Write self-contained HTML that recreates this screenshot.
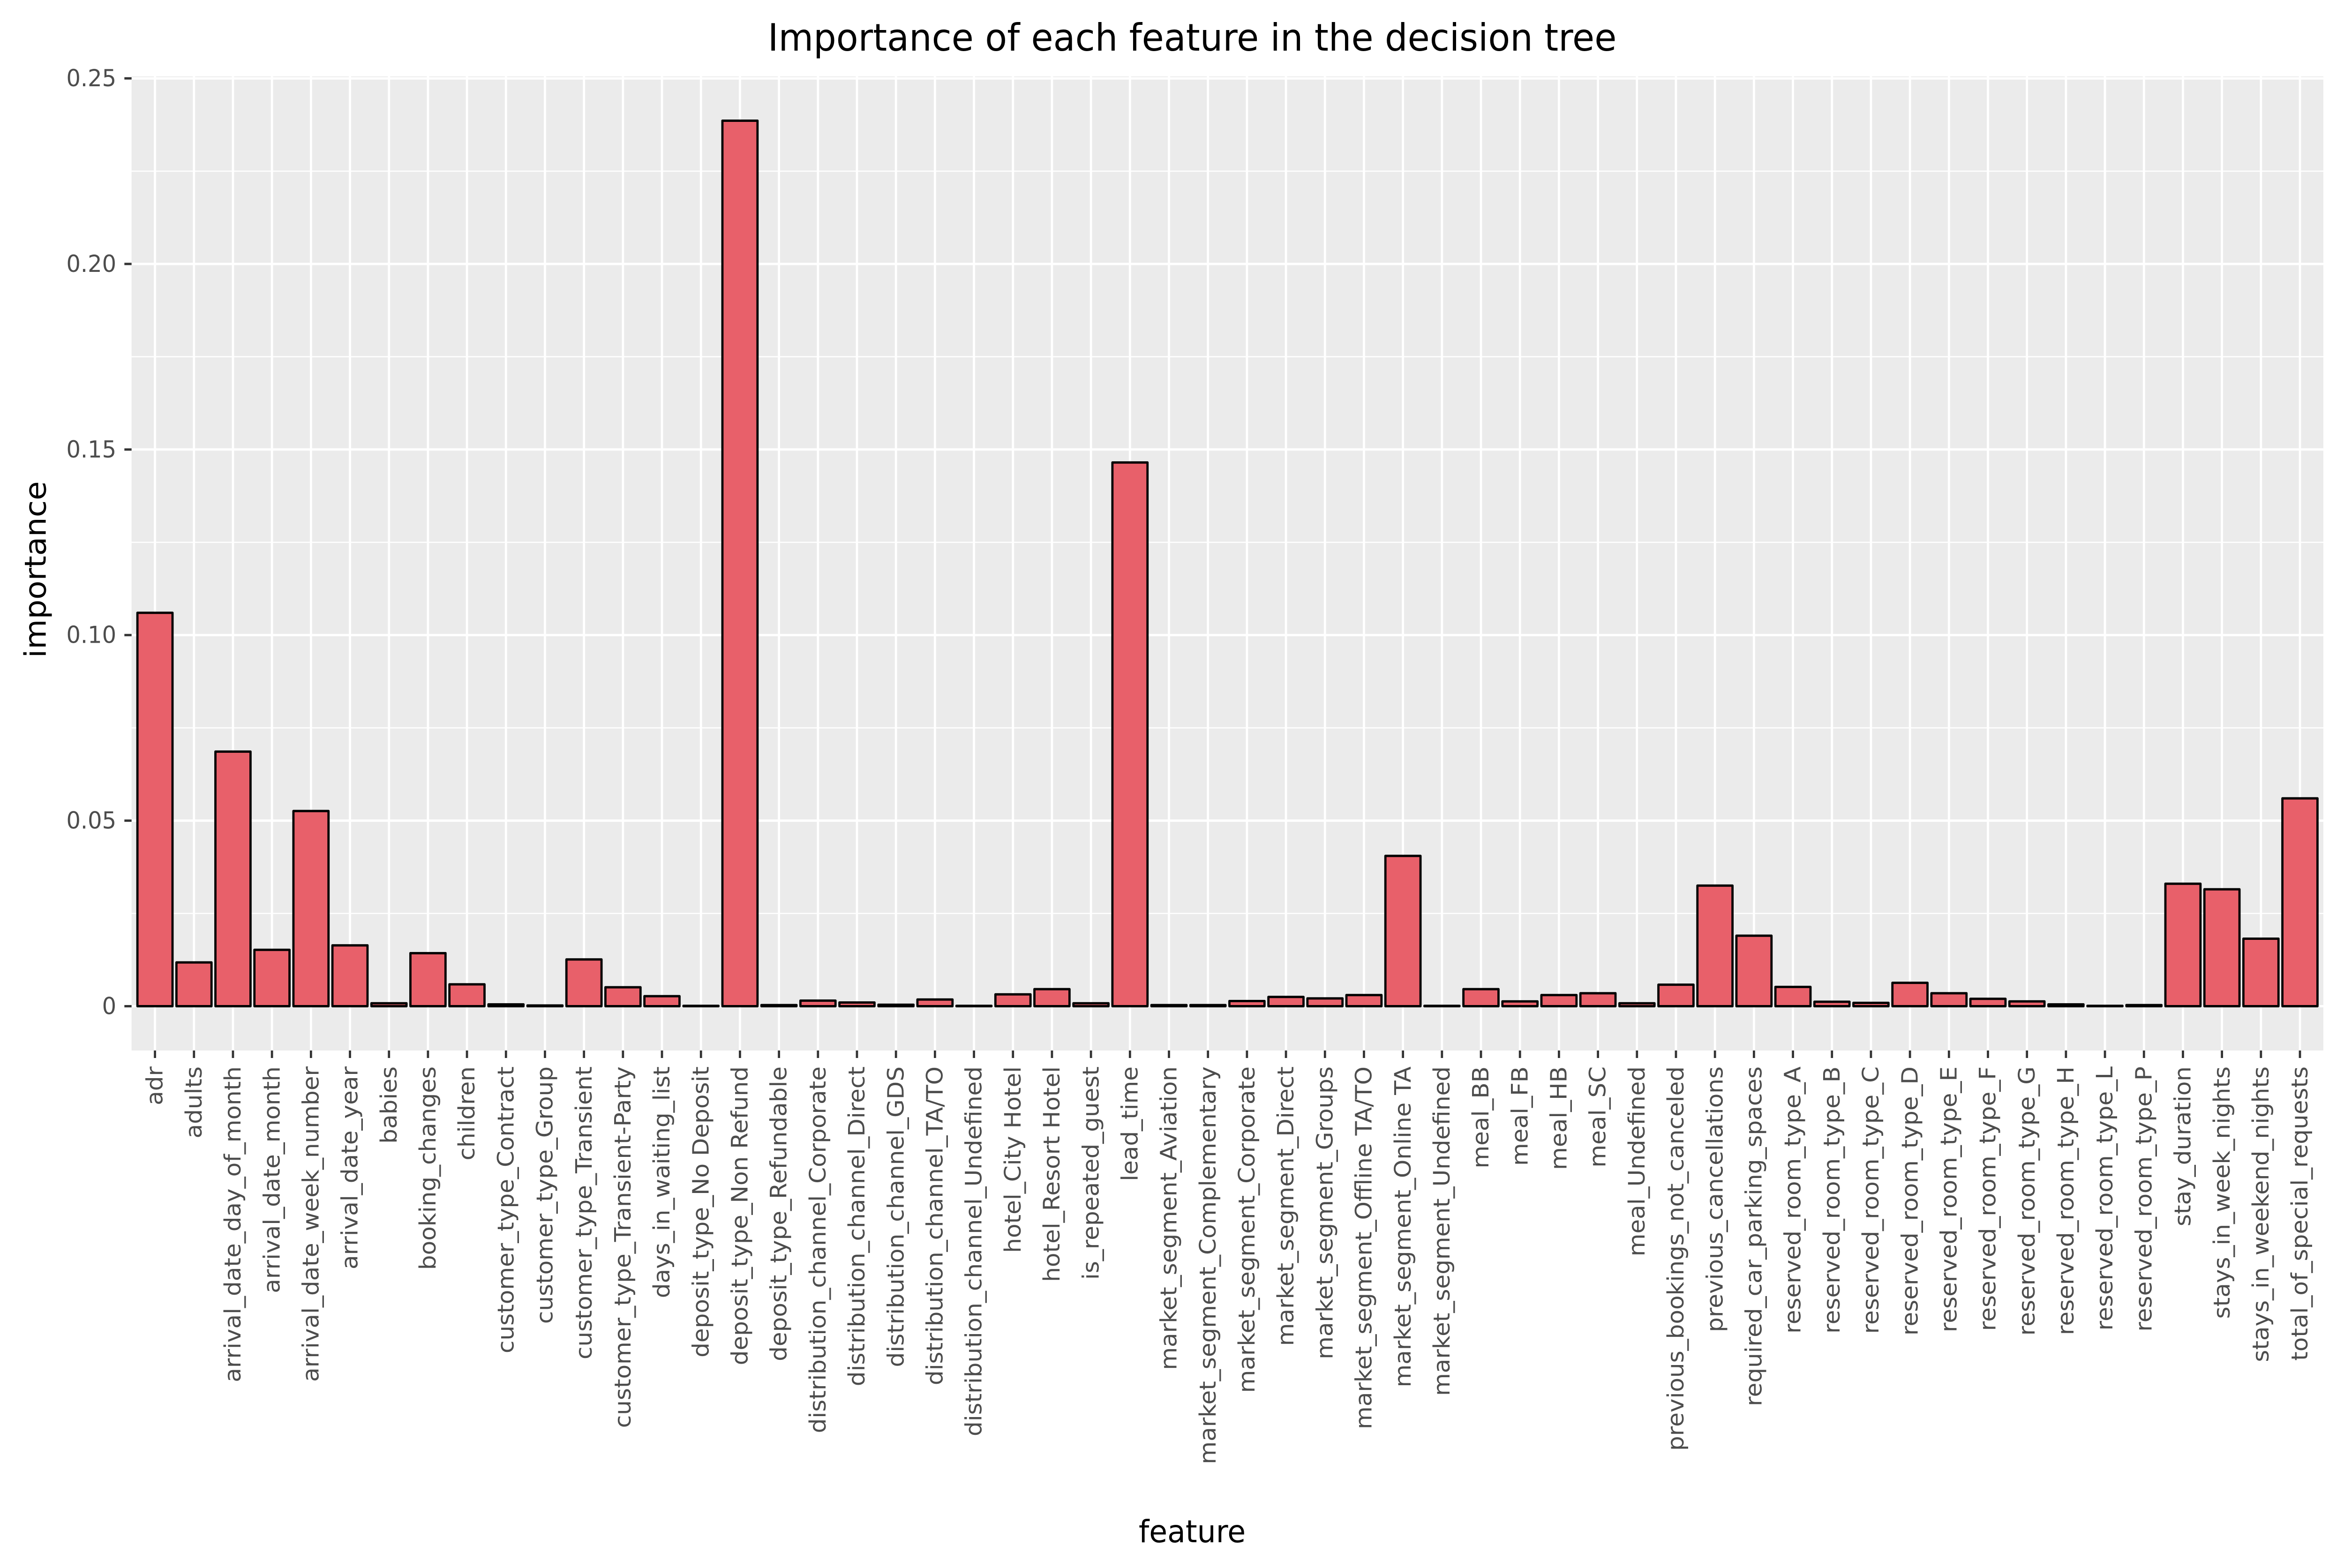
<!DOCTYPE html>
<html><head><meta charset="utf-8"><style>
html,body{margin:0;padding:0;background:#fff;overflow:hidden;width:100vw;height:100vh;}
svg{display:block;width:100vw;height:100vh;font-family:"DejaVu Sans","Liberation Sans",sans-serif;}
</style></head><body>
<svg id="chart" viewBox="0 0 5220 3345" preserveAspectRatio="none" xmlns="http://www.w3.org/2000/svg">
<rect x="293" y="163" width="4881" height="2078" fill="#EBEBEB"/>
<g id="grid"></g><g id="bars"></g><g id="axes"></g>
<text x="2655" y="108" text-anchor="middle" font-size="80" fill="#000">Importance of each feature in the decision tree</text>
<text x="2655" y="3290" text-anchor="middle" font-size="66" fill="#000">feature</text>
<text transform="translate(102,1215) rotate(-90)" text-anchor="middle" font-size="66" fill="#000">importance</text>
</svg>
<script>
const categories = ["adr","adults","arrival_date_day_of_month","arrival_date_month","arrival_date_week_number","arrival_date_year","babies","booking_changes","children","customer_type_Contract","customer_type_Group","customer_type_Transient","customer_type_Transient-Party","days_in_waiting_list","deposit_type_No Deposit","deposit_type_Non Refund","deposit_type_Refundable","distribution_channel_Corporate","distribution_channel_Direct","distribution_channel_GDS","distribution_channel_TA/TO","distribution_channel_Undefined","hotel_City Hotel","hotel_Resort Hotel","is_repeated_guest","lead_time","market_segment_Aviation","market_segment_Complementary","market_segment_Corporate","market_segment_Direct","market_segment_Groups","market_segment_Offline TA/TO","market_segment_Online TA","market_segment_Undefined","meal_BB","meal_FB","meal_HB","meal_SC","meal_Undefined","previous_bookings_not_canceled","previous_cancellations","required_car_parking_spaces","reserved_room_type_A","reserved_room_type_B","reserved_room_type_C","reserved_room_type_D","reserved_room_type_E","reserved_room_type_F","reserved_room_type_G","reserved_room_type_H","reserved_room_type_L","reserved_room_type_P","stay_duration","stays_in_week_nights","stays_in_weekend_nights","total_of_special_requests"];
const importance = [0.106,0.0118,0.0686,0.0152,0.0526,0.0164,0.0008,0.0143,0.0059,0.0005,0.0002,0.0126,0.0051,0.0027,0.0001,0.2386,0.0003,0.0015,0.001,0.0004,0.0018,0.0001,0.0032,0.0046,0.0008,0.1465,0.0003,0.0003,0.0014,0.0025,0.0021,0.003,0.0405,0.0001,0.0046,0.0013,0.003,0.0035,0.0008,0.0058,0.0325,0.019,0.0052,0.0012,0.0009,0.0063,0.0035,0.002,0.0013,0.0005,0.0001,0.0003,0.033,0.0315,0.0182,0.056];
const yTicks = [0,0.05,0.10,0.15,0.20,0.25];
const yTickLabels = ["0","0.05","0.10","0.15","0.20","0.25"];

const NS="http://www.w3.org/2000/svg";
const PL=293, PR=5174, PT=163, PB=2241;
const maxV=Math.max(...importance);
const yMin=-0.05*maxV, yMax=maxV*1.05;
function y(v){return PB-(v-yMin)/(yMax-yMin)*(PB-PT);}
const n=categories.length, unit=(PR-PL)/(n-1+1.2);
function x(i){return PL+(0.6+i)*unit;}
function mk(tag,attrs,parent){const e=document.createElementNS(NS,tag);for(const k in attrs)e.setAttribute(k,attrs[k]);parent.appendChild(e);return e;}
const grid=document.getElementById('grid'),bars=document.getElementById('bars'),axes=document.getElementById('axes');
for(let i=0;i<yTicks.length-1;i++){
  const v=(yTicks[i]+yTicks[i+1])/2;
  const l=mk('line',{x1:PL,x2:PR,y1:y(v),y2:y(v),stroke:'#fff','stroke-width':2.5},grid);
  
  
}
yTicks.forEach((v,i)=>{
  const l=mk('line',{x1:PL,x2:PR,y1:y(v),y2:y(v),stroke:'#fff','stroke-width':5},grid);
  
  
  const t=mk('line',{x1:PL-16,x2:PL,y1:y(v),y2:y(v),stroke:'#333','stroke-width':5},axes);
  
  
  const tx=mk('text',{x:PL-34,y:y(v),'text-anchor':'end','dominant-baseline':'central','font-size':50,fill:'#4d4d4d'},axes);
  tx.textContent=yTickLabels[i];
  
  
});
categories.forEach((c,i)=>{
  const cx=x(i);
  const g=mk('line',{x1:cx,x2:cx,y1:PT,y2:PB,stroke:'#fff','stroke-width':5},grid);
  
  
  const w=unit*0.9, top=y(importance[i]), base=y(0);
  const b=mk('rect',{x:cx-w/2,y:top,width:w,height:Math.max(base-top,0.5),fill:'#E8606A',stroke:'#000','stroke-width':5,'stroke-linejoin':'round'},bars);
  
  
  const t=mk('line',{x1:cx,x2:cx,y1:PB,y2:PB+16,stroke:'#333','stroke-width':5},axes);
  
  
  const tx=mk('text',{transform:`translate(${cx},${PB+34}) rotate(-90)`,'text-anchor':'end','dominant-baseline':'central','font-size':50,fill:'#4d4d4d'},axes);
  tx.textContent=c;
  
  
});
</script>
</body></html>
